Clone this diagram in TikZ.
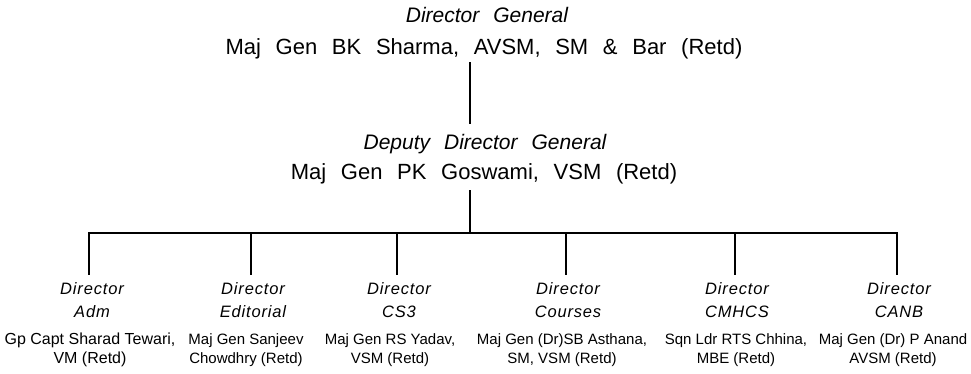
\documentclass[tikz,border=0pt]{standalone}
\usepackage{fontspec}
\setmainfont{Liberation Sans}
\newfontfamily\hdfont[WordSpace=2.4]{Liberation Sans}
\newfontfamily\lsfont[LetterSpace=5]{Liberation Sans}
\tikzset{
  toptitle/.style={anchor=base, inner sep=0pt, font=\fontsize{21}{25}\selectfont\hdfont\itshape},
  topname/.style={anchor=base, inner sep=0pt, font=\fontsize{22}{26}\selectfont\hdfont},
  subtitle/.style={anchor=base, inner sep=0pt, align=center, font=\fontsize{16.5}{23}\selectfont\lsfont\itshape},
  subname/.style={anchor=base, inner sep=0pt, align=center, font=\fontsize{15}{19}\selectfont},
  conn/.style={line width=2.8pt, line join=miter, line cap=rect}
}
\begin{document}
\begin{tikzpicture}[x=1pt,y=-1pt]
\useasboundingbox (0,0) rectangle (971,374);
\fill[white] (0,0) rectangle (971,374);
% top
\node[toptitle] (dgt) at (487,23) {Director General};
\node[topname] (dgn) at (484,55) {Maj Gen BK Sharma, AVSM, SM \& Bar (Retd)};
\node[toptitle] (ddgt) at (485,150) {Deputy Director General};
\node[topname] (ddgn) at (484,180) {Maj Gen PK Goswami, VSM (Retd)};
% spine
\coordinate (s1) at (470,63);
\coordinate (s2) at (470,123);
\coordinate (s3) at (470,191);
\coordinate (s4) at (470,233);
\draw[conn] (s1) -- (s2);
\draw[conn] (s3) -- (s4);
% bus
\foreach \i/\x in {1/89,2/251,3/397,4/566,5/735,6/897}{
  \coordinate (t\i) at (\x,233);
  \coordinate (b\i) at (\x,274);
}
\draw[conn] (b1) -- (t1) -- (t6) -- (b6);
\foreach \i in {2,3,4,5}{\draw[conn] (t\i) -- (b\i);}
% directors
\node[subtitle] (r1) at (92,317) {Director\\Adm};
\node[subtitle] (r2) at (253,317) {Director\\Editorial};
\node[subtitle] (r3) at (399,317) {Director\\CS3};
\node[subtitle] (r4) at (568,317) {Director\\Courses};
\node[subtitle] (r5) at (737,317) {Director\\CMHCS};
\node[subtitle] (r6) at (899,317) {Director\\CANB};
\node[subname, font=\fontsize{16}{19}\selectfont] (n1) at (90,363) {Gp Capt Sharad Tewari,\\VM (Retd)};
\node[subname] (n2) at (246,363) {Maj Gen Sanjeev\\Chowdhry (Retd)};
\node[subname] (n3) at (390,363) {Maj Gen RS Yadav,\\VSM (Retd)};
\node[subname] (n4) at (562,363) {Maj Gen (Dr)SB Asthana,\\SM, VSM (Retd)};
\node[subname] (n5) at (736,363) {Sqn Ldr RTS Chhina,\\MBE (Retd)};
\node[subname] (n6) at (893,363) {Maj Gen (Dr) P Anand\\AVSM (Retd)};
\end{tikzpicture}
\end{document}
